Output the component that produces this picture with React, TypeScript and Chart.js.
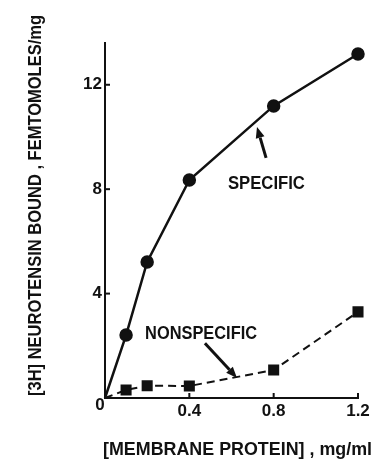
import React, { useEffect, useRef } from 'react';
import { Chart, registerables } from 'chart.js';

Chart.register(...registerables);

// ---- data ----
const concentrations = [0, 0.1, 0.2, 0.4, 0.8, 1.2];
const specificBound = [0, 2.41, 5.21, 8.35, 11.19, 13.18];
const nonspecificBound = [0, 0.31, 0.47, 0.46, 1.07, 3.3];
const xTickValues = [0, 0.4, 0.8, 1.2];
const yTickValues = [0, 4, 8, 12];
const xMax = 1.2;
const yMax = 13.6;

const xTitle = '[MEMBRANE PROTEIN] , mg/ml';
const yTitle = '[3H] NEUROTENSIN BOUND , FEMTOMOLES/mg';
const specificLabel = 'SPECIFIC';
const nonspecificLabel = 'NONSPECIFIC';

const FONT = "'Liberation Sans', Arial, sans-serif";
const INK = '#111';

function fitText(ctx: CanvasRenderingContext2D, text: string, width: number, size: number) {
  ctx.font = `bold ${size}px ${FONT}`;
  const w = ctx.measureText(text).width;
  const sx = width / w;
  ctx.save();
  ctx.scale(sx, 1);
  ctx.fillText(text, 0, 0);
  ctx.restore();
}

function arrow(ctx: CanvasRenderingContext2D, x1: number, y1: number, x2: number, y2: number) {
  const ang = Math.atan2(y2 - y1, x2 - x1);
  const headLen = 11;
  const headW = 4.5;
  const bx = x2 - headLen * Math.cos(ang);
  const by = y2 - headLen * Math.sin(ang);
  ctx.save();
  ctx.strokeStyle = INK;
  ctx.fillStyle = INK;
  ctx.lineWidth = 3;
  ctx.beginPath();
  ctx.moveTo(x1, y1);
  ctx.lineTo(bx, by);
  ctx.stroke();
  ctx.beginPath();
  ctx.moveTo(x2, y2);
  ctx.lineTo(bx + headW * Math.sin(ang), by - headW * Math.cos(ang));
  ctx.lineTo(bx - headW * Math.sin(ang), by + headW * Math.cos(ang));
  ctx.closePath();
  ctx.fill();
  ctx.restore();
}

const decorPlugin = {
  id: 'decor',
  afterDraw(chart: any) {
    const ctx: CanvasRenderingContext2D = chart.ctx;
    const xs = chart.scales.x;
    const ys = chart.scales.y;
    const x0 = xs.getPixelForValue(0);
    const y0 = ys.getPixelForValue(0);
    ctx.save();
    ctx.fillStyle = INK;
    ctx.strokeStyle = INK;

    // inward tick marks
    ctx.lineWidth = 2;
    ys.ticks.forEach((t: any) => {
      if (t.value === 0) return;
      const p = ys.getPixelForValue(t.value);
      ctx.beginPath();
      ctx.moveTo(x0, p);
      ctx.lineTo(x0 + 5, p);
      ctx.stroke();
    });
    xs.ticks.forEach((t: any) => {
      if (t.value === 0) return;
      const p = xs.getPixelForValue(t.value);
      ctx.beginPath();
      ctx.moveTo(p, y0);
      ctx.lineTo(p, y0 - 5);
      ctx.stroke();
    });

    // shared origin label
    ctx.font = `bold 17px ${FONT}`;
    ctx.textAlign = 'center';
    ctx.textBaseline = 'alphabetic';
    ctx.fillText('0', x0 - 5, y0 + 12);

    // axis titles
    ctx.textAlign = 'left';
    ctx.save();
    ctx.translate(103, 455);
    fitText(ctx, xTitle, 269, 18);
    ctx.restore();

    ctx.save();
    ctx.translate(41, 396);
    ctx.rotate(-Math.PI / 2);
    fitText(ctx, yTitle, 381, 18);
    ctx.restore();

    // annotations
    ctx.save();
    ctx.translate(xs.getPixelForValue(0.583), ys.getPixelForValue(8.0));
    fitText(ctx, specificLabel, 77, 18);
    ctx.restore();
    ctx.save();
    ctx.translate(xs.getPixelForValue(0.19), ys.getPixelForValue(2.27));
    fitText(ctx, nonspecificLabel, 112, 18);
    ctx.restore();

    arrow(ctx, xs.getPixelForValue(0.764), ys.getPixelForValue(9.2), xs.getPixelForValue(0.721), ys.getPixelForValue(10.38));
    arrow(ctx, xs.getPixelForValue(0.474), ys.getPixelForValue(2.1), xs.getPixelForValue(0.626), ys.getPixelForValue(0.77));

    ctx.restore();
  },
};

export default function App() {
  const ref = useRef<HTMLCanvasElement>(null);
  useEffect(() => {
    if (!ref.current) return;
    const chart = new Chart(ref.current, {
      type: 'line',
      data: {
        datasets: [
          {
            label: 'Specific',
            data: concentrations.map((c, i) => ({ x: c, y: specificBound[i] })),
            borderColor: INK,
            backgroundColor: INK,
            borderWidth: 2.5,
            pointRadius: concentrations.map((c) => (c === 0 ? 0 : 5.5)),
            pointStyle: 'circle',
            tension: 0,
            clip: false,
          } as any,
          {
            label: 'Nonspecific',
            data: concentrations.map((c, i) => ({ x: c, y: nonspecificBound[i] })),
            borderColor: INK,
            backgroundColor: INK,
            borderWidth: 2,
            borderDash: [8, 5],
            pointRadius: concentrations.map((c) => (c === 0 ? 0 : 6.4)),
            pointStyle: 'rect',
            tension: 0,
            clip: false,
          } as any,
        ],
      },
      options: {
        animation: false,
        responsive: false,
        events: [],
        layout: { padding: { top: 43, right: 15, bottom: 0, left: 0 } },
        plugins: { legend: { display: false }, tooltip: { enabled: false }, title: { display: false } },
        scales: {
          x: {
            type: 'linear',
            min: 0,
            max: xMax,
            afterBuildTicks: (s: any) => {
              s.ticks = xTickValues.map((v) => ({ value: v }));
            },
            afterFit: (s: any) => {
              s.height = 64;
            },
            grid: { display: false, drawTicks: false },
            border: { display: true, color: INK, width: 2 },
            ticks: {
              color: INK,
              padding: 3,
              maxRotation: 0,
              font: { family: FONT, size: 17, weight: 'bold' },
              callback: (v: any) => (v === 0 ? '' : String(v)),
            },
          },
          y: {
            type: 'linear',
            min: 0,
            max: yMax,
            afterBuildTicks: (s: any) => {
              s.ticks = yTickValues.map((v) => ({ value: v }));
            },
            afterFit: (s: any) => {
              s.width = 105;
            },
            grid: { display: false, drawTicks: false },
            border: { display: true, color: INK, width: 2 },
            ticks: {
              color: INK,
              padding: 3,
              font: { family: FONT, size: 17, weight: 'bold' },
              callback: (v: any) => (v === 0 ? '' : String(v)),
            },
          },
        },
      } as any,
      plugins: [decorPlugin],
    });
    return () => chart.destroy();
  }, []);

  return (
    <div style={{ position: 'absolute', left: 0, top: 0, width: 373, height: 462, background: '#fff' }}>
      <canvas ref={ref} width={373} height={462} style={{ display: 'block' }} />
    </div>
  );
}
